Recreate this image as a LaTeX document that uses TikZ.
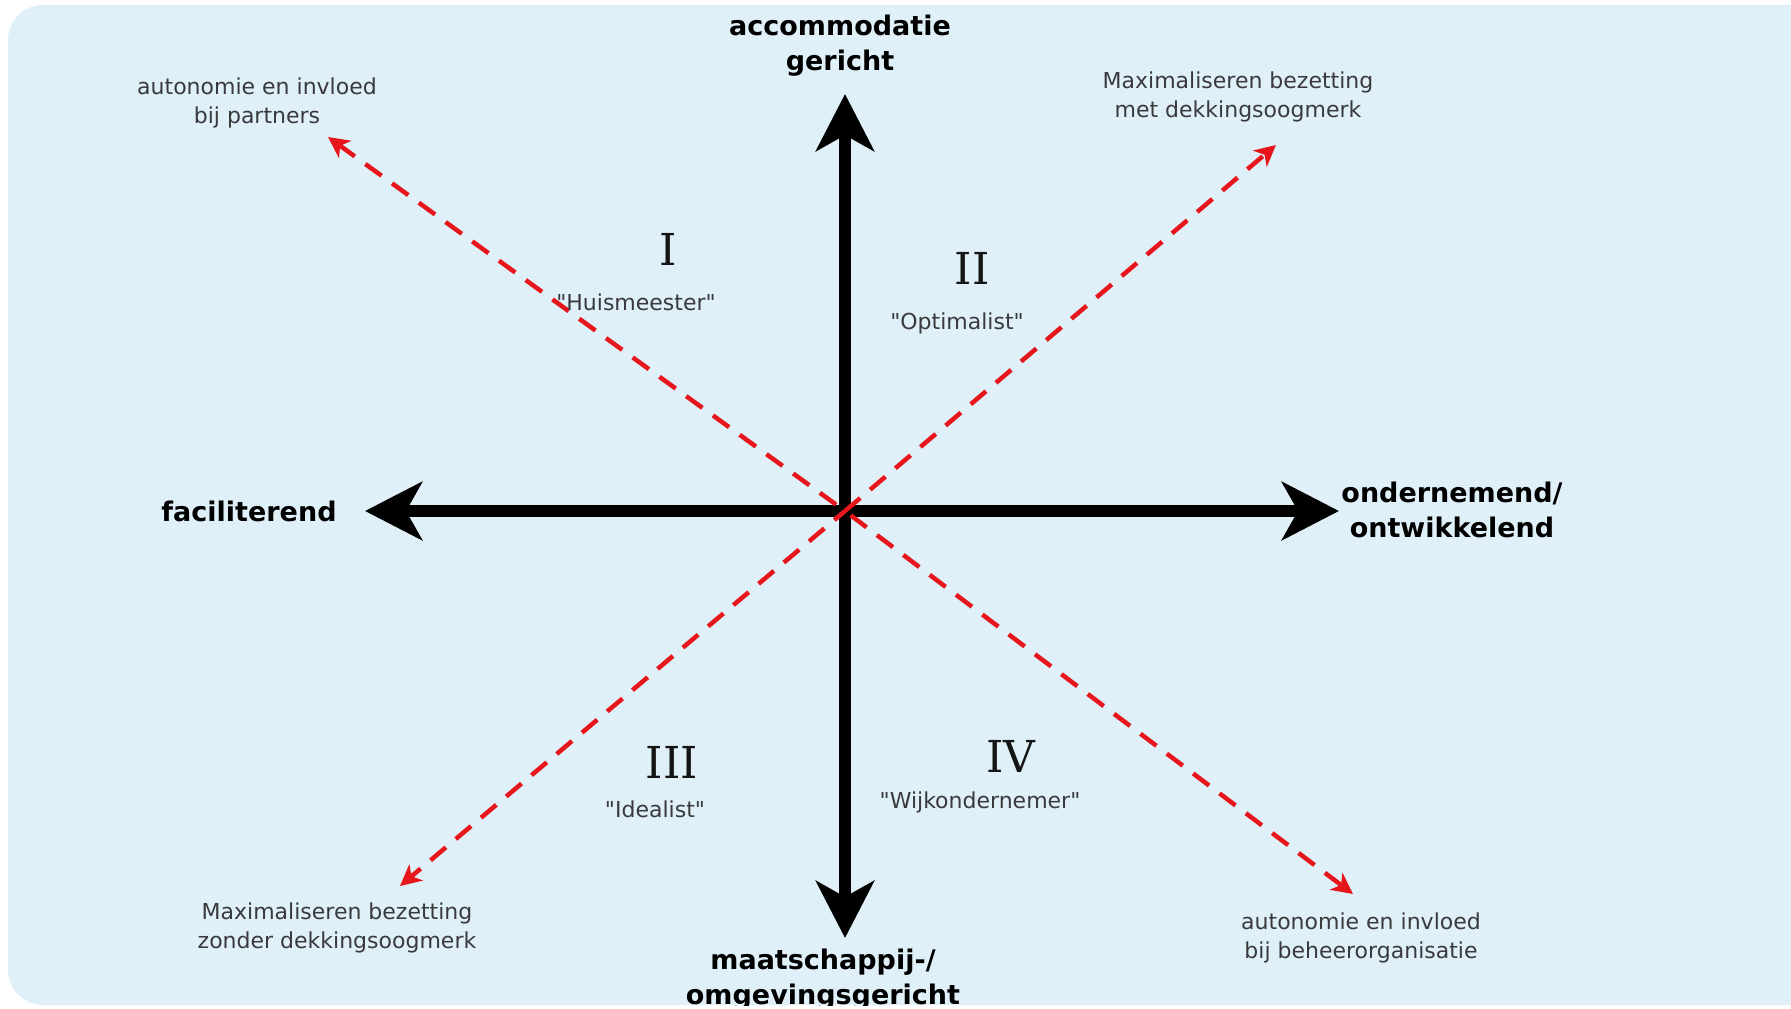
\documentclass[tikz,border=0pt]{standalone}
\usepackage{fontspec}
\newfontfamily\lblfont{DejaVu Sans}
\newfontfamily\numfont{DejaVu Serif}
\usetikzlibrary{arrows.meta}
\definecolor{bgblue}{RGB}{223,240,248}
\definecolor{redline}{RGB}{230,22,28}
\definecolor{txtgray}{RGB}{58,58,62}
\definecolor{numblack}{RGB}{20,20,20}
\begin{document}
\begin{tikzpicture}[x=1pt,y=-1pt,
  axis/.style={line width=12pt, -{Stealth[length=57pt,width=58pt,inset=16pt]}},
  redarrow/.style={draw=redline, line width=4.5pt, dash pattern=on 20pt off 13pt,
    -{Stealth[length=21pt,width=21pt,inset=6pt,fill=redline]}},
  axislabel/.style={font=\lblfont\bfseries\fontsize{27}{35}\selectfont, align=center, inner sep=0pt, text=black},
  smalllabel/.style={font=\lblfont\fontsize{22}{29}\selectfont, align=center, inner sep=0pt, text=txtgray},
  numeral/.style={font=\numfont\fontsize{44}{50}\selectfont, inner sep=0pt, text=numblack},
  ]
\useasboundingbox (0,0) rectangle (1791,1009);
\begin{scope}
\clip[rounded corners=35pt] (8,5) rectangle (1850,1005);
\fill[bgblue] (0,0) rectangle (1791,1009);

% coordinates
\coordinate (o) at (845,511);
\coordinate (tN) at (845,94);
\coordinate (tS) at (845,938);
\coordinate (tW) at (365,511);
\coordinate (tE) at (1339,511);
\coordinate (rUL) at (328,137);
\coordinate (rUR) at (1276,145);
\coordinate (rDL) at (400,886);
\coordinate (rDR) at (1353,894);

% axes
\draw[axis] (o) -- (tN);
\draw[axis] (o) -- (tS);
\draw[axis] (o) -- (tW);
\draw[axis] (o) -- (tE);

% red dashed arrows
\draw[redarrow, dash phase=22pt] (o) -- (rUL);
\draw[redarrow] (o) -- (rUR);
\draw[redarrow, dash phase=6pt] (o) -- (rDL);
\draw[redarrow, dash phase=26pt] (o) -- (rDR);

% axis labels
\node[axislabel] (lN) at (840,46) {accommodatie\\gericht};
\node[axislabel] (lW) at (249,511) {faciliterend};
\node[axislabel] (lE) at (1452,510) {ondernemend/\\ontwikkelend};
\node[axislabel] (lS) at (823,980) {maatschappij-/\\omgevingsgericht};

% corner labels
\node[smalllabel] (cUL) at (257,103) {autonomie en invloed\\bij partners};
\node[smalllabel] (cUR) at (1238,97) {Maximaliseren bezetting\\met dekkingsoogmerk};
\node[smalllabel] (cDL) at (337,928) {Maximaliseren bezetting\\zonder dekkingsoogmerk};
\node[smalllabel] (cDR) at (1361,938) {autonomie en invloed\\bij beheerorganisatie};

% quadrant numerals
\node[numeral] (q1) at (668,249) {I};
\node[numeral] (q2) at (972,268) {II};
\node[numeral] (q3) at (672,762) {III};
\node[numeral] (q4) at (1011,756) {IV};

% quadrant names
\node[smalllabel] (n1) at (636,302) {"Huismeester"};
\node[smalllabel] (n2) at (957,323) {"Optimalist"};
\node[smalllabel] (n3) at (655,809) {"Idealist"};
\node[smalllabel] (n4) at (980,802) {"Wijkondernemer"};
\end{scope}
\end{tikzpicture}
\end{document}
